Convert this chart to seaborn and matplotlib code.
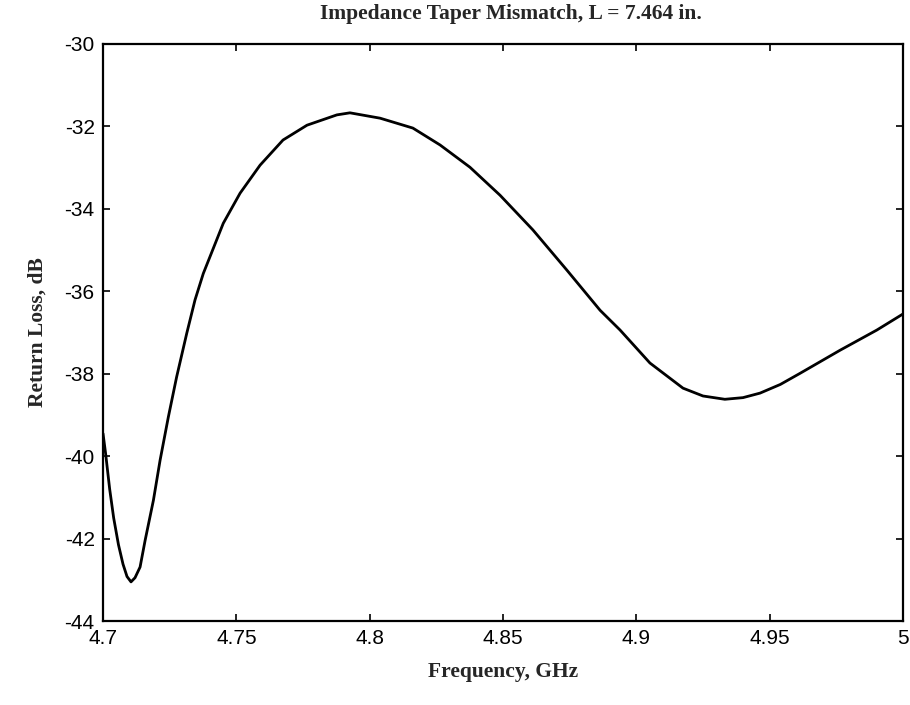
# Impedance taper mismatch: return loss vs frequency

import numpy as np
import pandas as pd
import matplotlib
matplotlib.use("Agg")
import matplotlib.pyplot as plt
import seaborn as sns

# Curve values
freq_ghz = [4.7000, 4.7010, 4.7025, 4.7040, 4.7058, 4.7075, 4.7090, 4.7105,
            4.7120, 4.7139, 4.7158, 4.7189, 4.7214, 4.7245, 4.7276, 4.7314,
            4.7345, 4.7376, 4.7451, 4.7514, 4.7589, 4.7675, 4.7765, 4.7877,
            4.7926, 4.8039, 4.8162, 4.8264, 4.8376, 4.8489, 4.8612, 4.8740,
            4.8864, 4.8939, 4.9051, 4.9175, 4.9250, 4.9332, 4.9400, 4.9464,
            4.9540, 4.9614, 4.9764, 4.9902, 5.0000]
return_loss_db = [-39.45, -39.95, -40.80, -41.50, -42.15, -42.62, -42.92, -43.05,
                  -42.95, -42.69, -42.04, -41.07, -40.10, -39.05, -38.08, -37.02,
                  -36.21, -35.57, -34.35, -33.62, -32.94, -32.33, -31.97, -31.72,
                  -31.67, -31.80, -32.04, -32.45, -32.99, -33.67, -34.51, -35.49,
                  -36.46, -36.94, -37.74, -38.35, -38.54, -38.62, -38.58, -38.47,
                  -38.26, -37.99, -37.43, -36.94, -36.55]

x_ticks = [4.7, 4.75, 4.8, 4.85, 4.9, 4.95, 5.0]
x_tick_labels = ["4.7", "4.75", "4.8", "4.85", "4.9", "4.95", "5"]
y_ticks = [-44, -42, -40, -38, -36, -34, -32, -30]

df = pd.DataFrame({"freq": freq_ghz, "rl": return_loss_db})

sns.set_style("white")
plt.rcParams["font.family"] = ["Liberation Serif", "DejaVu Serif"]

fig = plt.figure(figsize=(9.1, 7.05), dpi=100)
ax = fig.add_axes([0.1132, 0.1191, 0.8791, 0.8185])

sns.lineplot(data=df, x="freq", y="rl", color="black", linewidth=2.0, ax=ax)

ax.set_xlim(4.7, 5.0)
ax.set_ylim(-44, -30)
ax.set_xticks(x_ticks)
ax.set_xticklabels(x_tick_labels)
ax.set_yticks(y_ticks)
ax.set_yticklabels([str(v) for v in y_ticks])

for lbl in ax.get_xticklabels() + ax.get_yticklabels():
    lbl.set_fontfamily("Liberation Sans")
    lbl.set_fontsize(15)

ax.tick_params(direction="in", length=5, width=1.2, top=True, right=True,
               bottom=True, left=True, colors="black", pad=6)
for side in ax.spines.values():
    side.set_color("black")
    side.set_linewidth(1.6)

ax.set_title("Impedance Taper Mismatch, L = 7.464 in.", fontsize=15.5,
             fontweight="bold", pad=18, x=0.51)
ax.set_xlabel("Frequency, GHz", fontsize=15.5, fontweight="bold", labelpad=10)
ax.set_ylabel("Return Loss, dB", fontsize=15.5, fontweight="bold", labelpad=12)

fig.savefig("out.png", dpi=100)
